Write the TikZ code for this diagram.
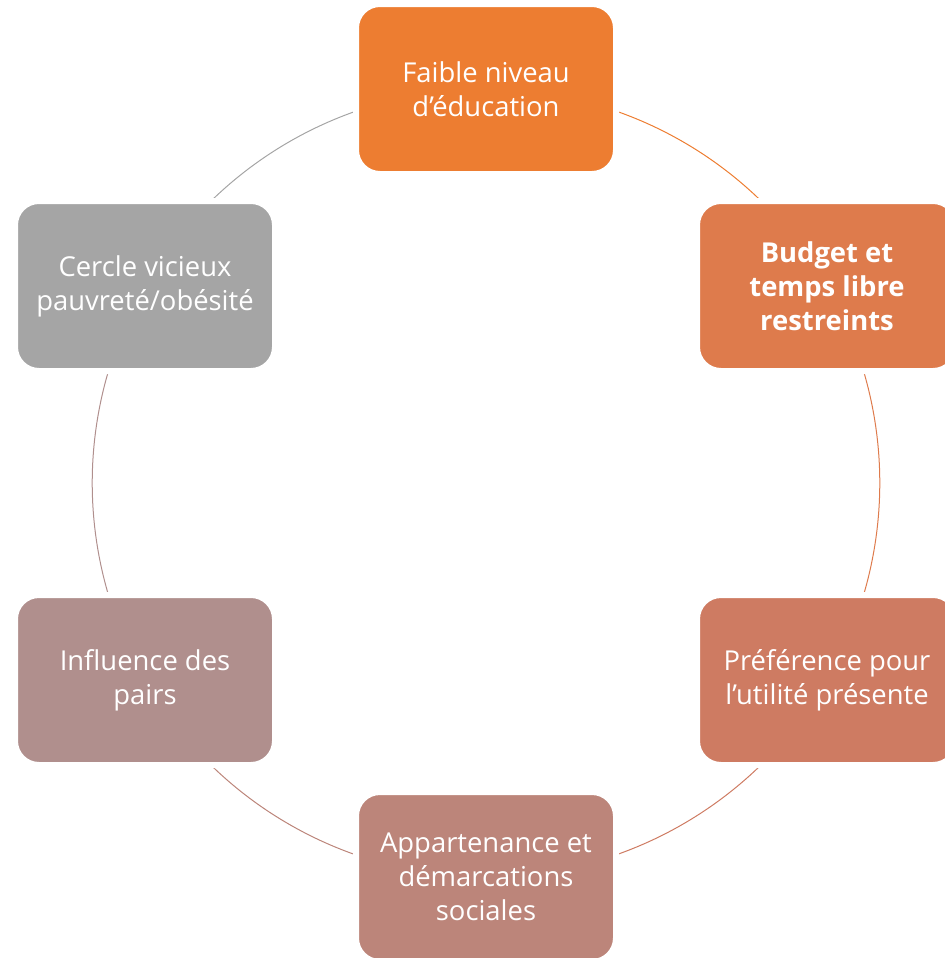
\documentclass[tikz,border=0pt]{standalone}
\usepackage{fontspec}
\setmainfont{Open Sans}
\usepackage{tikz}
\usetikzlibrary{positioning,shapes,backgrounds}
\definecolor{eduOrange}{RGB}{237,125,49}
\definecolor{budgetOrange}{RGB}{222,123,76}
\definecolor{prefBrown}{RGB}{206,123,98}
\definecolor{socialBrown}{RGB}{188,133,122}
\definecolor{peerMauve}{RGB}{176,143,141}
\definecolor{cycleGrey}{RGB}{165,165,165}
\tikzset {
    style Box/.style={
        draw=white,
        line width=3pt,
        text=white,
        rectangle, % Set the shape as a rectangle
        rounded corners=12pt,
        minimum width=130pt,
        minimum height=85pt,
        align=center,
        font=\fontsize{13.7}{17}\selectfont,
    },
    style Link/.style={
        line width=0.5pt,
    },
}

\begin{document}
\begin{tikzpicture}[x=0.5pt, y=-0.5pt]
        \useasboundingbox (0,0) rectangle (944,958);

        \node[style Box, fill=eduOrange] at (486, 89) (edu) {Faible niveau\\d’éducation};
        \node[style Box, fill=budgetOrange, font=\fontsize{13.7}{17}\selectfont\bfseries] at (827, 286) (budget) {Budget et\\temps libre\\restreints};
        \node[style Box, fill=prefBrown] at (827, 680) (pref) {Préférence pour\\l’utilité présente};
        \node[style Box, fill=socialBrown] at (486, 877) (social) {Appartenance et\\démarcations\\sociales};
        \node[style Box, fill=peerMauve] at (145, 680) (peer) {Influence des\\pairs};
        \node[style Box, fill=cycleGrey] at (145, 286) (vicious) {Cercle vicieux\\pauvreté/obésité};

        % arcs of the cycle, behind the boxes
        \begin{pgfonlayer}{background}
            \draw[style Link, eduOrange] (edu.center) arc[start angle=-90, end angle=-30, radius=394];
            \draw[style Link, budgetOrange] (budget.center) arc[start angle=-30, end angle=30, radius=394];
            \draw[style Link, prefBrown] (pref.center) arc[start angle=30, end angle=90, radius=394];
            \draw[style Link, socialBrown] (social.center) arc[start angle=90, end angle=150, radius=394];
            \draw[style Link, peerMauve] (peer.center) arc[start angle=150, end angle=210, radius=394];
            \draw[style Link, cycleGrey] (vicious.center) arc[start angle=210, end angle=270, radius=394];
        \end{pgfonlayer}
    \end{tikzpicture}
\end{document}
